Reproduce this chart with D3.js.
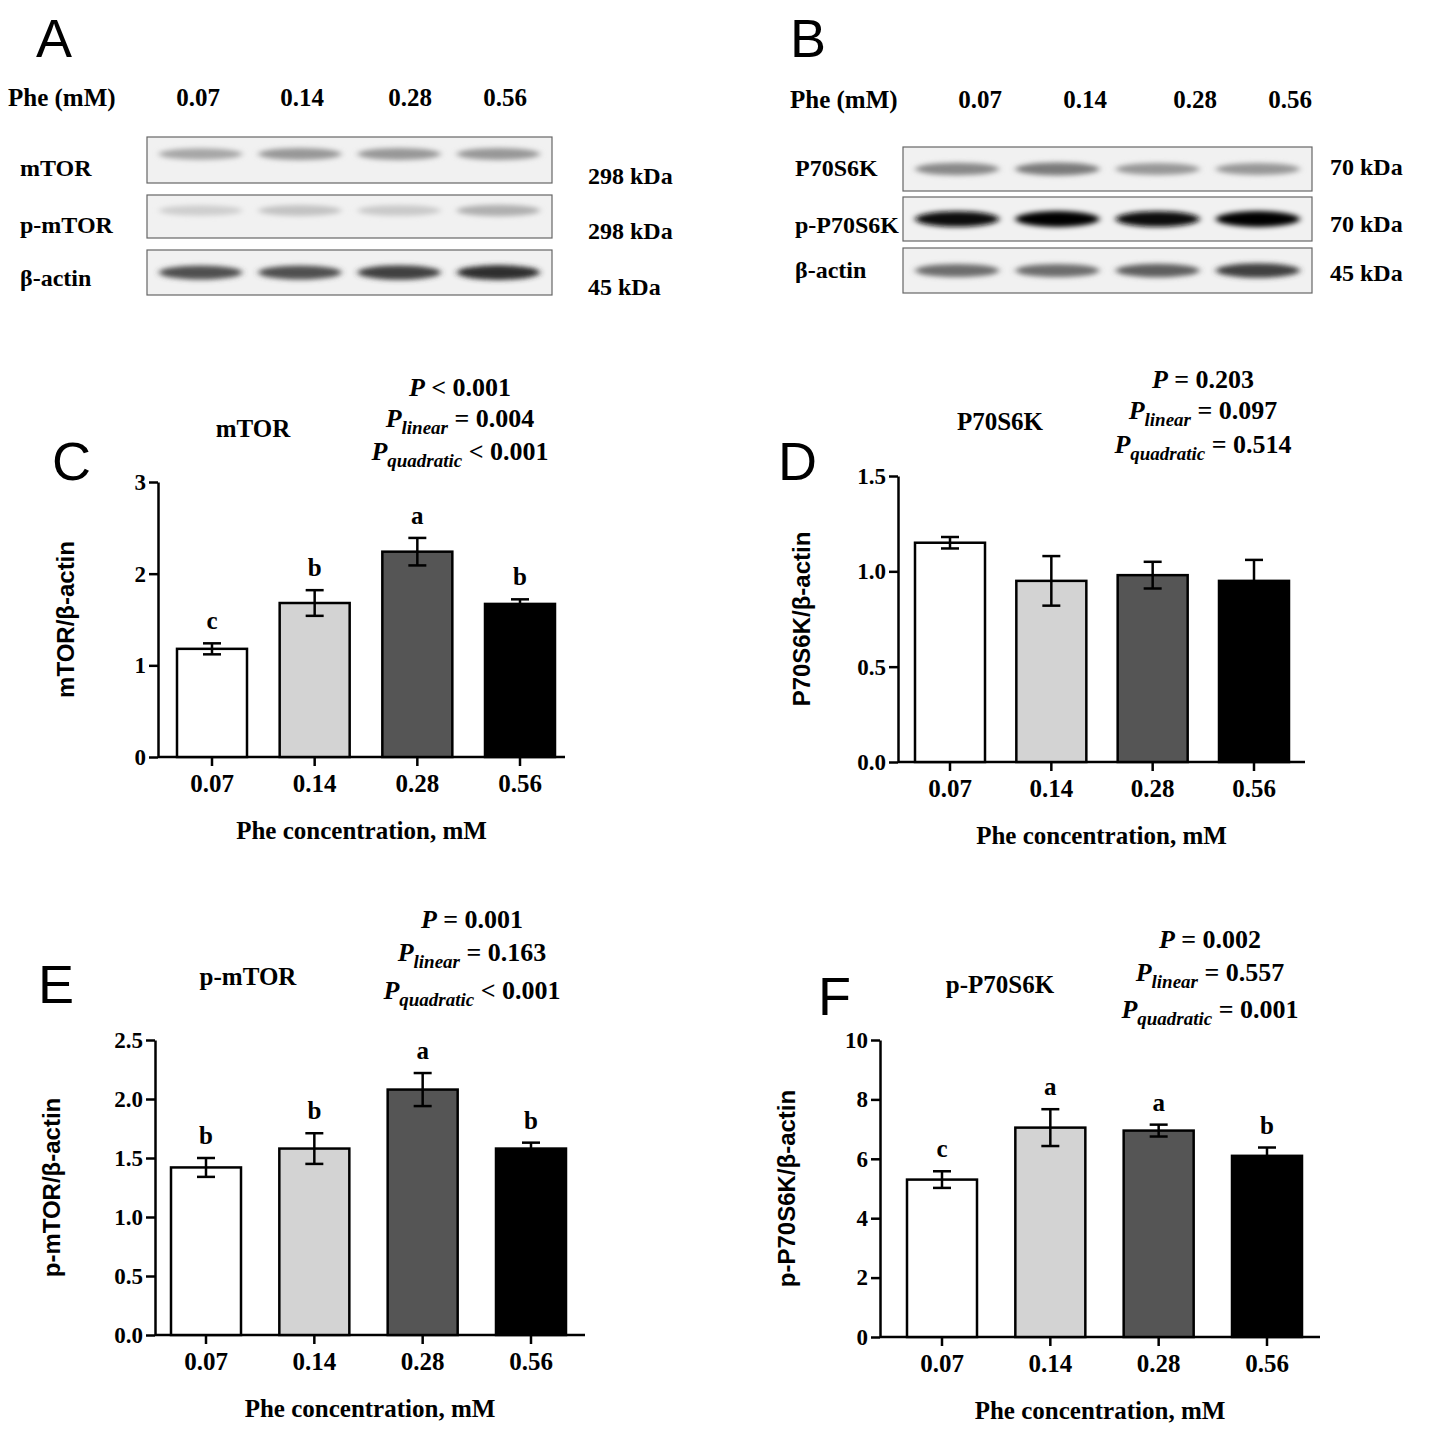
<!DOCTYPE html><html><head><meta charset="utf-8"><script src="https://cdn.jsdelivr.net/npm/d3@7"></script>
<style>body{margin:0;background:#fff}text{font-family:"Liberation Serif","Times New Roman",serif;font-weight:bold}</style></head><body>
<svg id="s" width="1429" height="1437"></svg>
<script>
const doses=["0.07","0.14","0.28","0.56"];
const fills=["#ffffff","#d3d3d3","#555555","#000000"];
const mTOR=[1.18,1.68,2.24,1.67], mTORerr=[0.06,0.14,0.15,0.05], mTORlet=["c","b","a","b"];
const p70=[1.15,0.95,0.98,0.95], p70err=[0.03,0.13,0.07,0.11], p70let=["","","",""];
const pmTOR=[1.42,1.58,2.08,1.58], pmTORerr=[0.08,0.13,0.14,0.05], pmTORlet=["b","b","a","b"];
const pp70=[5.3,7.05,6.95,6.1], pp70err=[0.28,0.62,0.2,0.28], pp70let=["c","a","a","b"];
const blotA=[[0.45,0.5,0.5,0.5],[0.3,0.35,0.32,0.42],[0.75,0.75,0.8,0.85]];
const blotB=[[0.55,0.6,0.5,0.5],[0.95,0.98,0.95,0.98],[0.65,0.65,0.7,0.8]];
const svg=d3.select("#s");
const defs=svg.append("defs");
defs.append("filter").attr("id","bl").attr("x","-20%").attr("y","-100%").attr("width","140%").attr("height","300%").append("feGaussianBlur").attr("stdDeviation","3 2.5");
function T(x,y,t,sz,anchor,g){return (g||svg).append("text").attr("x",x).attr("y",y).attr("font-size",sz).attr("text-anchor",anchor||"start").text(t);}
function letter(x,y,t){svg.append("text").attr("x",x).attr("y",y).attr("font-size",54).style("font-family","Liberation Sans,Arial").style("font-weight","normal").text(t);}
function blot(cfg){
  letter(cfg.lx,cfg.ly,cfg.letter);
  T(cfg.px,cfg.py,"Phe (mM)",25);
  cfg.lanes.forEach((x,i)=>T(x,cfg.py,doses[i],25,"middle"));
  cfg.rows.forEach((r,ri)=>{
    svg.append("rect").attr("x",cfg.x0).attr("y",r[0]).attr("width",cfg.x1-cfg.x0).attr("height",r[1]-r[0]).attr("fill","#f1f1f1").attr("stroke","#666").attr("stroke-width",1.2);
    const xs=d3.scaleBand().domain(doses).range([cfg.x0,cfg.x1]).padding(0.08);
    cfg.data[ri].forEach((v,i)=>{
      svg.append("ellipse").attr("cx",xs(doses[i])+xs.bandwidth()/2).attr("cy",(r[0]+r[1])/2+cfg.off[ri]).attr("rx",xs.bandwidth()/2-4).attr("ry",4+v*4).attr("fill",d3.interpolateGreys(v)).attr("filter","url(#bl)");
    });
    T(cfg.nx,cfg.ny[ri],cfg.names[ri],24);
    T(cfg.kx,cfg.ky[ri],cfg.kda[ri],24);
  });
}
blot({letter:"A",lx:36,ly:57,px:8,py:106,lanes:[198,302,410,505],x0:147,x1:552,rows:[[137,183],[195,238],[250,295]],data:blotA,off:[-6,-6,0],
 names:["mTOR","p-mTOR","β-actin"],nx:20,ny:[176,233,286],kx:588,ky:[184,239,295],kda:["298 kDa","298 kDa","45 kDa"]});
blot({letter:"B",lx:790,ly:57,px:790,py:108,lanes:[980,1085,1195,1290],x0:903,x1:1312,rows:[[147,191],[197,241],[248,293]],data:blotB,off:[0,0,0],
 names:["P70S6K","p-P70S6K","β-actin"],nx:795,ny:[176,233,278],kx:1330,ky:[175,232,281],kda:["70 kDa","70 kDa","45 kDa"]});

function panel(c){
  letter(c.lx,c.ly,c.letter);
  const y=d3.scaleLinear().domain([0,c.max]).range([c.y0,c.ytop]);
  const x=d3.scalePoint().domain(doses).range([c.c0,c.c3]);
  const g=svg.append("g");
  g.append("g").attr("transform",`translate(${c.ax},0)`).call(d3.axisLeft(y).tickValues(c.ticks).tickFormat(c.fmt).tickSize(9).tickSizeOuter(0))
   .call(a=>{a.selectAll("text").attr("font-size",23).style("font-family","Liberation Serif").style("font-weight","bold").attr("fill","#000");a.select(".domain").attr("stroke-width",2.5);a.selectAll("line").attr("stroke-width",2.5);});
  g.append("line").attr("x1",c.ax).attr("x2",c.xend).attr("y1",c.y0).attr("y2",c.y0).attr("stroke","#000").attr("stroke-width",2.5);
  doses.forEach((d,i)=>{
    const cx=x(d);
    g.append("line").attr("x1",cx).attr("x2",cx).attr("y1",c.y0).attr("y2",c.y0+9).attr("stroke","#000").attr("stroke-width",2.5);
    T(cx,c.y0+35,d,25,"middle");
    g.append("rect").attr("x",cx-35).attr("width",70).attr("y",y(c.v[i])).attr("height",c.y0-y(c.v[i])).attr("fill",fills[i]).attr("stroke","#000").attr("stroke-width",2.5);
    const hi=y(c.v[i]+c.e[i]),lo=y(c.v[i]-c.e[i]);
    g.append("line").attr("x1",cx).attr("x2",cx).attr("y1",hi).attr("y2",lo).attr("stroke","#000").attr("stroke-width",2.5);
    [hi,lo].forEach(yy=>g.append("line").attr("x1",cx-9).attr("x2",cx+9).attr("y1",yy).attr("y2",yy).attr("stroke","#000").attr("stroke-width",2.5));
    if(c.l[i])T(cx,hi-14,c.l[i],25,"middle");
  });
  T((c.ax+c.xend)/2,c.y0+82,"Phe concentration, mM",25,"middle");
  svg.append("text").attr("transform",`translate(${c.ylx},${(c.y0+c.ytop)/2}) rotate(-90)`).attr("text-anchor","middle").attr("font-size",24).style("font-family","Liberation Sans,Arial").text(c.ylab);
  T(c.tx,c.ty,c.title,25,"middle");
  const sx=c.sx;
  const l1=T(sx,c.sy[0],"",26,"middle");l1.append("tspan").attr("font-style","italic").text("P");l1.append("tspan").text(" "+c.p[0]);
  const l2=T(sx,c.sy[1],"",26,"middle");l2.append("tspan").attr("font-style","italic").text("P");l2.append("tspan").attr("font-style","italic").attr("font-size",19).attr("dy",7).text("linear");l2.append("tspan").attr("dy",-7).text(" "+c.p[1]);
  const l3=T(sx,c.sy[2],"",26,"middle");l3.append("tspan").attr("font-style","italic").text("P");l3.append("tspan").attr("font-style","italic").attr("font-size",19).attr("dy",7).text("quadratic");l3.append("tspan").attr("dy",-7).text(" "+c.p[2]);
}
panel({letter:"C",lx:52,ly:480,max:3,y0:757,ytop:482,ax:158,xend:565,c0:212,c3:520,ticks:[0,1,2,3],fmt:d3.format("d"),v:mTOR,e:mTORerr,l:mTORlet,
 ylx:74,ylab:"mTOR/β-actin",title:"mTOR",tx:253,ty:437,sx:460,sy:[396,427,460],p:["< 0.001","= 0.004","< 0.001"]});
panel({letter:"D",lx:778,ly:480,max:1.5,y0:762,ytop:476,ax:898,xend:1305,c0:950,c3:1254,ticks:[0,0.5,1,1.5],fmt:d3.format(".1f"),v:p70,e:p70err,l:p70let,
 ylx:810,ylab:"P70S6K/β-actin",title:"P70S6K",tx:1000,ty:430,sx:1203,sy:[388,419,453],p:["= 0.203","= 0.097","= 0.514"]});
panel({letter:"E",lx:38,ly:1003,max:2.5,y0:1335,ytop:1040,ax:155,xend:585,c0:206,c3:531,ticks:[0,0.5,1,1.5,2,2.5],fmt:d3.format(".1f"),v:pmTOR,e:pmTORerr,l:pmTORlet,
 ylx:60,ylab:"p-mTOR/β-actin",title:"p-mTOR",tx:248,ty:985,sx:472,sy:[928,961,999],p:["= 0.001","= 0.163","< 0.001"]});
panel({letter:"F",lx:818,ly:1015,max:10,y0:1337,ytop:1040,ax:880,xend:1320,c0:942,c3:1267,ticks:[0,2,4,6,8,10],fmt:d3.format("d"),v:pp70,e:pp70err,l:pp70let,
 ylx:795,ylab:"p-P70S6K/β-actin",title:"p-P70S6K",tx:1000,ty:993,sx:1210,sy:[948,981,1018],p:["= 0.002","= 0.557","= 0.001"]});
</script></body></html>
